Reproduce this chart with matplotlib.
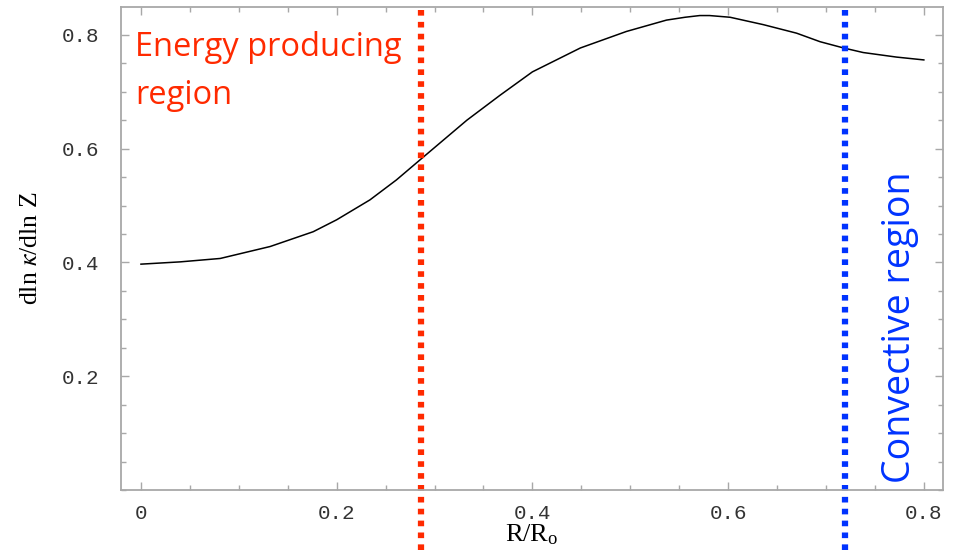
import matplotlib.pyplot as plt
from matplotlib.ticker import MultipleLocator

plt.rcParams['mathtext.fontset'] = 'stix'

# curve
r = [0.0, 0.04, 0.081, 0.132, 0.176, 0.2, 0.234, 0.261, 0.287, 0.333, 0.367,
     0.4, 0.449, 0.496, 0.537, 0.556, 0.571, 0.581, 0.602, 0.636, 0.67, 0.694,
     0.718, 0.738, 0.772, 0.8]
dlnk = [0.397, 0.401, 0.407, 0.428, 0.454, 0.475, 0.51, 0.545, 0.583, 0.65, 0.694,
        0.735, 0.777, 0.806, 0.826, 0.831, 0.834, 0.834, 0.831, 0.818, 0.803, 0.788,
        0.777, 0.769, 0.761, 0.756]

energy_r = 0.286
convective_r = 0.719

xticks = [0, 0.2, 0.4, 0.6, 0.8]
yticks = [0.2, 0.4, 0.6, 0.8]

fig = plt.figure(figsize=(9.68, 5.57), dpi=100)
ax = fig.add_axes([0.125, 0.1203, 0.849, 0.8671])

ax.plot(r, dlnk, color='black', lw=1.1)

ax.axvline(energy_r, ymin=-0.124, ymax=1, color='#ff2a00', lw=4.5,
           linestyle=(0, (0.9, 1.0)), clip_on=False)
ax.axvline(convective_r, ymin=-0.124, ymax=1, color='#0033ff', lw=4.5,
           linestyle=(0, (0.9, 1.0)), clip_on=False)

ax.set_xlim(-0.0204, 0.8194)
ax.set_ylim(0, 0.849)

ax.set_xticks(xticks)
ax.set_xticklabels(['0', '0.2', '0.4', '0.6', '0.8'])
ax.set_yticks(yticks)
ax.set_yticklabels(['0.2', '0.4', '0.6', '0.8'])
ax.xaxis.set_minor_locator(MultipleLocator(0.05))
ax.yaxis.set_minor_locator(MultipleLocator(0.05))

for s in ax.spines.values():
    s.set_color('#a8a8a8')
    s.set_linewidth(1.3)

ax.tick_params(which='both', direction='in', top=True, right=True,
               color='#a8a8a8', width=1)
ax.tick_params(which='major', length=6)
ax.tick_params(which='minor', length=3.5)
ax.tick_params(axis='x', pad=10)
ax.tick_params(axis='y', pad=16)
for lab in ax.get_xticklabels() + ax.get_yticklabels():
    lab.set_family('Liberation Mono')
    lab.set_fontsize(15)
    lab.set_color('#333333')

ax.set_xlabel(r'R/R$_\mathregular{o}$', family='Liberation Serif', fontsize=19,
              labelpad=0)
ax.set_ylabel(r'dln $\kappa$/dln Z', family='Liberation Serif', fontsize=18.5,
              labelpad=14)

ax.text(-0.006, 0.806, 'Energy producing\nregion', color='#ff2a00',
        family='Open Sans', fontsize=23.5, va='top', ha='left',
        linespacing=1.6)
ax.text(0.776, 0.012, 'Convective region', color='#0033ff',
        family='Open Sans', fontsize=27, rotation=90, va='bottom',
        ha='center')

fig.savefig('out.png', dpi=100)
